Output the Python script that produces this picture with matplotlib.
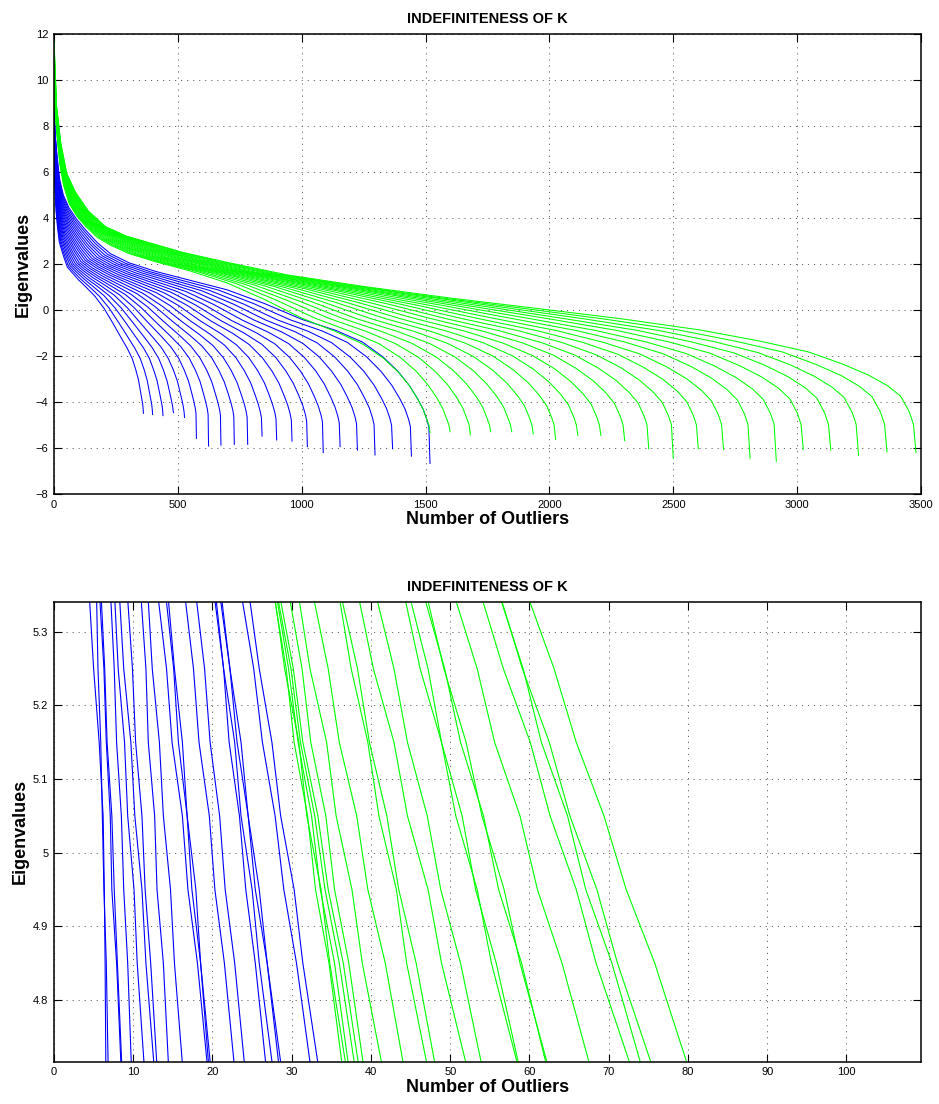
import numpy as np
import matplotlib.pyplot as plt

plt.rcParams['font.family'] = ['Liberation Sans', 'DejaVu Sans']

# Sample points along each run, as a fraction of that run's length.
frac = [0, 0.003, 0.008, 0.015, 0.025, 0.04, 0.06, 0.085, 0.115, 0.15, 0.2,
        0.27, 0.36, 0.46, 0.56, 0.66, 0.75, 0.82, 0.875, 0.915, 0.945,
        0.967, 0.982, 0.992, 0.997, 1.0]

blue_len = [361, 398, 440, 483, 527, 575, 624, 674, 728, 782, 840,
            899, 961, 1023, 1087, 1155, 1225, 1296, 1367, 1443, 1518]
blue_end = [-4.49, -4.54, -4.59, -4.46, -4.67, -5.58, -5.91, -5.87, -5.84, -5.84, -5.48,
            -5.65, -5.70, -5.94, -6.20, -5.94, -6.09, -6.30, -6.03, -6.35, -6.67]
blue_vals = [
    [7.0, 6.45, 5.7, 4.92, 4.2, 3.56, 2.94, 2.62, 2.24, 1.86, 1.64, 1.33, 0.99, 0.59, 0.07, -0.58, -1.2, -1.67, -2.11, -2.6, -3.04, -3.53, -3.87, -4.1, -4.3],
    [7.1, 6.51, 5.75, 4.96, 4.24, 3.6, 2.99, 2.66, 2.27, 1.89, 1.66, 1.35, 1.01, 0.6, 0.08, -0.57, -1.18, -1.66, -2.11, -2.6, -3.05, -3.55, -3.89, -4.13, -4.34],
    [7.2, 6.58, 5.8, 5.0, 4.28, 3.65, 3.04, 2.7, 2.31, 1.92, 1.68, 1.37, 1.02, 0.62, 0.09, -0.56, -1.17, -1.64, -2.1, -2.61, -3.06, -3.56, -3.92, -4.17, -4.38],
    [7.3, 6.64, 5.85, 5.04, 4.32, 3.69, 3.09, 2.75, 2.34, 1.95, 1.7, 1.38, 1.04, 0.63, 0.1, -0.55, -1.15, -1.63, -2.1, -2.61, -3.08, -3.58, -3.94, -4.2, -4.42],
    [7.4, 6.7, 5.9, 5.07, 4.36, 3.74, 3.14, 2.79, 2.38, 1.98, 1.72, 1.4, 1.05, 0.65, 0.11, -0.55, -1.14, -1.61, -2.1, -2.61, -3.09, -3.6, -3.96, -4.24, -4.46],
    [7.5, 6.77, 5.96, 5.11, 4.4, 3.78, 3.19, 2.83, 2.41, 2.01, 1.74, 1.42, 1.07, 0.66, 0.12, -0.54, -1.12, -1.6, -2.09, -2.62, -3.1, -3.61, -3.98, -4.27, -4.5],
    [7.6, 6.83, 6.01, 5.15, 4.44, 3.82, 3.24, 2.87, 2.45, 2.04, 1.76, 1.44, 1.08, 0.68, 0.13, -0.53, -1.11, -1.59, -2.09, -2.62, -3.11, -3.63, -4.01, -4.3, -4.54],
    [7.7, 6.89, 6.06, 5.19, 4.48, 3.87, 3.29, 2.91, 2.48, 2.07, 1.78, 1.45, 1.1, 0.69, 0.14, -0.52, -1.09, -1.57, -2.09, -2.62, -3.12, -3.65, -4.03, -4.34, -4.58],
    [7.8, 6.96, 6.11, 5.23, 4.52, 3.91, 3.34, 2.96, 2.52, 2.1, 1.8, 1.47, 1.11, 0.71, 0.15, -0.51, -1.08, -1.56, -2.08, -2.63, -3.14, -3.66, -4.05, -4.37, -4.62],
    [7.9, 7.02, 6.16, 5.27, 4.56, 3.96, 3.39, 3.0, 2.55, 2.13, 1.82, 1.49, 1.13, 0.72, 0.16, -0.5, -1.06, -1.54, -2.08, -2.63, -3.15, -3.68, -4.07, -4.41, -4.66],
    [8.0, 7.09, 6.21, 5.31, 4.6, 4.0, 3.45, 3.04, 2.59, 2.16, 1.85, 1.51, 1.15, 0.74, 0.18, -0.5, -1.05, -1.53, -2.08, -2.64, -3.16, -3.7, -4.1, -4.44, -4.7],
    [8.1, 7.15, 6.26, 5.34, 4.63, 4.04, 3.5, 3.08, 2.62, 2.18, 1.87, 1.52, 1.16, 0.75, 0.19, -0.49, -1.03, -1.52, -2.07, -2.64, -3.17, -3.71, -4.12, -4.47, -4.74],
    [8.2, 7.21, 6.31, 5.38, 4.67, 4.09, 3.55, 3.12, 2.65, 2.21, 1.89, 1.54, 1.18, 0.76, 0.2, -0.48, -1.01, -1.5, -2.07, -2.64, -3.18, -3.73, -4.14, -4.51, -4.78],
    [8.3, 7.28, 6.36, 5.42, 4.71, 4.13, 3.6, 3.17, 2.69, 2.24, 1.91, 1.56, 1.19, 0.78, 0.21, -0.47, -1.0, -1.49, -2.06, -2.65, -3.2, -3.74, -4.16, -4.54, -4.82],
    [8.4, 7.34, 6.41, 5.46, 4.75, 4.18, 3.65, 3.21, 2.72, 2.27, 1.93, 1.58, 1.21, 0.79, 0.22, -0.46, -0.98, -1.47, -2.06, -2.65, -3.21, -3.76, -4.19, -4.58, -4.86],
    [8.5, 7.4, 6.47, 5.5, 4.79, 4.22, 3.7, 3.25, 2.76, 2.3, 1.95, 1.59, 1.22, 0.81, 0.23, -0.45, -0.97, -1.46, -2.06, -2.65, -3.22, -3.78, -4.21, -4.61, -4.9],
    [8.6, 7.47, 6.52, 5.54, 4.83, 4.26, 3.75, 3.29, 2.79, 2.33, 1.97, 1.61, 1.24, 0.82, 0.24, -0.44, -0.95, -1.45, -2.05, -2.66, -3.23, -3.79, -4.23, -4.64, -4.94],
    [8.7, 7.53, 6.57, 5.57, 4.87, 4.31, 3.8, 3.33, 2.83, 2.36, 1.99, 1.63, 1.25, 0.84, 0.25, -0.44, -0.94, -1.43, -2.05, -2.66, -3.24, -3.81, -4.25, -4.68, -4.98],
    [8.8, 7.59, 6.62, 5.61, 4.91, 4.35, 3.85, 3.38, 2.86, 2.39, 2.01, 1.65, 1.27, 0.85, 0.26, -0.43, -0.92, -1.42, -2.05, -2.66, -3.26, -3.83, -4.28, -4.71, -5.02],
    [8.9, 7.66, 6.67, 5.65, 4.95, 4.4, 3.9, 3.42, 2.9, 2.42, 2.03, 1.66, 1.28, 0.87, 0.27, -0.42, -0.91, -1.4, -2.04, -2.67, -3.27, -3.84, -4.3, -4.75, -5.06],
    [9.0, 7.72, 6.72, 5.69, 4.99, 4.44, 3.95, 3.46, 2.93, 2.45, 2.05, 1.68, 1.3, 0.88, 0.28, -0.41, -0.89, -1.39, -2.04, -2.67, -3.28, -3.86, -4.32, -4.78, -5.1],
]

green_len = [1518, 1599, 1681, 1763, 1848, 1935, 2025, 2115, 2208, 2304, 2401,
             2500, 2601, 2703, 2810, 2916, 3025, 3136, 3248, 3363, 3480]
green_end = [-5.33, -5.29, -5.43, -5.29, -5.29, -5.39, -5.62, -5.45, -5.45, -5.68, -6.03,
             -6.45, -6.03, -6.06, -6.45, -6.58, -6.06, -6.09, -6.32, -6.17, -6.20]
green_vals = [
    [9.5, 8.71, 7.6, 6.41, 5.45, 4.64, 4.1, 3.62, 3.16, 2.82, 2.45, 2.1, 1.71, 1.18, 0.46, -0.36, -0.94, -1.47, -2.08, -2.69, -3.29, -3.86, -4.33, -4.78, -5.0],
    [9.61, 8.72, 7.58, 6.39, 5.43, 4.62, 4.08, 3.6, 3.15, 2.8, 2.43, 2.07, 1.68, 1.15, 0.44, -0.36, -0.94, -1.46, -2.07, -2.67, -3.27, -3.83, -4.3, -4.76, -5.0],
    [9.73, 8.73, 7.56, 6.36, 5.42, 4.61, 4.05, 3.58, 3.13, 2.79, 2.41, 2.04, 1.64, 1.11, 0.42, -0.36, -0.93, -1.46, -2.05, -2.66, -3.24, -3.8, -4.27, -4.74, -5.0],
    [9.84, 8.73, 7.54, 6.34, 5.4, 4.59, 4.03, 3.56, 3.12, 2.77, 2.39, 2.01, 1.61, 1.08, 0.4, -0.36, -0.93, -1.45, -2.04, -2.64, -3.22, -3.77, -4.24, -4.72, -4.99],
    [9.95, 8.74, 7.53, 6.31, 5.38, 4.57, 4.0, 3.54, 3.1, 2.76, 2.38, 1.99, 1.57, 1.05, 0.38, -0.37, -0.93, -1.45, -2.03, -2.62, -3.2, -3.75, -4.21, -4.71, -4.99],
    [10.06, 8.75, 7.51, 6.29, 5.37, 4.56, 3.98, 3.52, 3.09, 2.74, 2.36, 1.96, 1.54, 1.02, 0.36, -0.37, -0.92, -1.44, -2.02, -2.61, -3.18, -3.72, -4.18, -4.69, -4.99],
    [10.18, 8.76, 7.49, 6.26, 5.35, 4.54, 3.96, 3.49, 3.08, 2.72, 2.34, 1.93, 1.5, 0.98, 0.34, -0.37, -0.92, -1.44, -2.0, -2.59, -3.15, -3.69, -4.15, -4.67, -4.99],
    [10.29, 8.76, 7.47, 6.24, 5.33, 4.52, 3.93, 3.47, 3.06, 2.71, 2.32, 1.9, 1.47, 0.95, 0.32, -0.37, -0.92, -1.43, -1.99, -2.57, -3.13, -3.66, -4.12, -4.65, -4.99],
    [10.4, 8.77, 7.45, 6.21, 5.32, 4.5, 3.91, 3.45, 3.05, 2.69, 2.3, 1.87, 1.43, 0.92, 0.3, -0.37, -0.91, -1.43, -1.98, -2.55, -3.11, -3.63, -4.09, -4.63, -4.98],
    [10.51, 8.78, 7.43, 6.19, 5.3, 4.49, 3.88, 3.43, 3.03, 2.68, 2.28, 1.84, 1.4, 0.88, 0.28, -0.37, -0.91, -1.42, -1.96, -2.54, -3.08, -3.6, -4.06, -4.61, -4.98],
    [10.63, 8.79, 7.42, 6.17, 5.29, 4.47, 3.86, 3.41, 3.02, 2.66, 2.27, 1.82, 1.37, 0.85, 0.27, -0.38, -0.91, -1.42, -1.95, -2.52, -3.06, -3.58, -4.04, -4.6, -4.98],
    [10.74, 8.79, 7.4, 6.14, 5.27, 4.45, 3.84, 3.39, 3.01, 2.64, 2.25, 1.79, 1.33, 0.82, 0.25, -0.38, -0.9, -1.41, -1.94, -2.5, -3.04, -3.55, -4.01, -4.58, -4.98],
    [10.85, 8.8, 7.38, 6.12, 5.25, 4.44, 3.81, 3.37, 2.99, 2.63, 2.23, 1.76, 1.3, 0.78, 0.23, -0.38, -0.9, -1.4, -1.92, -2.49, -3.01, -3.52, -3.98, -4.56, -4.98],
    [10.96, 8.81, 7.36, 6.09, 5.24, 4.42, 3.79, 3.35, 2.98, 2.61, 2.21, 1.73, 1.26, 0.75, 0.21, -0.38, -0.89, -1.4, -1.91, -2.47, -2.99, -3.49, -3.95, -4.54, -4.97],
    [11.08, 8.82, 7.34, 6.07, 5.22, 4.4, 3.76, 3.33, 2.96, 2.6, 2.19, 1.7, 1.23, 0.72, 0.19, -0.38, -0.89, -1.39, -1.9, -2.45, -2.97, -3.46, -3.92, -4.52, -4.97],
    [11.19, 8.82, 7.32, 6.04, 5.2, 4.39, 3.74, 3.31, 2.95, 2.58, 2.17, 1.67, 1.19, 0.69, 0.17, -0.38, -0.89, -1.39, -1.89, -2.44, -2.95, -3.43, -3.89, -4.5, -4.97],
    [11.3, 8.83, 7.3, 6.02, 5.19, 4.37, 3.72, 3.28, 2.94, 2.56, 2.15, 1.64, 1.16, 0.65, 0.15, -0.38, -0.88, -1.38, -1.87, -2.42, -2.92, -3.4, -3.86, -4.48, -4.97],
    [11.41, 8.84, 7.29, 5.99, 5.17, 4.35, 3.69, 3.26, 2.92, 2.55, 2.14, 1.62, 1.12, 0.62, 0.13, -0.39, -0.88, -1.38, -1.86, -2.4, -2.9, -3.38, -3.83, -4.47, -4.97],
    [11.53, 8.85, 7.27, 5.97, 5.15, 4.33, 3.67, 3.24, 2.91, 2.53, 2.12, 1.59, 1.09, 0.59, 0.11, -0.39, -0.88, -1.37, -1.85, -2.38, -2.88, -3.35, -3.8, -4.45, -4.96],
    [11.64, 8.85, 7.25, 5.94, 5.14, 4.32, 3.64, 3.22, 2.89, 2.52, 2.1, 1.56, 1.05, 0.55, 0.09, -0.39, -0.87, -1.37, -1.83, -2.37, -2.85, -3.32, -3.77, -4.43, -4.96],
    [11.75, 8.86, 7.23, 5.92, 5.12, 4.3, 3.62, 3.2, 2.88, 2.5, 2.08, 1.53, 1.02, 0.52, 0.07, -0.39, -0.87, -1.36, -1.82, -2.35, -2.83, -3.29, -3.74, -4.41, -4.96],
]

# Zoomed view: where each curve sits (outlier count) at these eigenvalue levels.
zoom_levels = [5.36, 5.25, 5.15, 5.05, 4.95, 4.85, 4.70]
zoom_blue = [
    [4.4, 5.0, 5.7, 6.2, 6.35, 6.45, 6.55],
    [5.35, 5.55, 5.9, 6.1, 6.3, 6.6, 6.85],
    [5.7, 6.3, 6.6, 7.1, 7.3, 7.9, 8.5],
    [5.9, 6.4, 6.7, 7.3, 7.6, 8.0, 8.6],
    [7.1, 7.6, 7.9, 8.5, 8.8, 9.3, 9.8],
    [7.6, 8.1, 8.9, 9.3, 10.1, 10.5, 11.45],
    [8.2, 8.8, 9.7, 10.2, 11.1, 11.6, 12.7],
    [9.2, 9.9, 10.3, 11.1, 11.5, 12.2, 13.05],
    [10.9, 11.6, 11.9, 12.7, 13.0, 13.8, 14.5],
    [11.8, 12.4, 13.3, 13.8, 14.7, 15.2, 16.3],
    [13.0, 14.2, 14.9, 16.2, 16.9, 18.1, 19.45],
    [14.0, 15.1, 15.7, 16.8, 17.4, 18.5, 19.6],
    [14.3, 15.2, 16.2, 16.8, 17.9, 18.5, 19.85],
    [16.4, 17.6, 18.3, 19.6, 20.3, 21.5, 22.85],
    [17.8, 19.0, 19.7, 20.9, 21.6, 22.8, 24.15],
    [20.1, 21.4, 22.1, 23.4, 24.2, 25.4, 26.85],
    [20.3, 21.4, 22.8, 23.6, 25.0, 25.9, 27.7],
    [20.8, 22.2, 23.1, 24.5, 25.4, 26.9, 28.5],
    [21.0, 22.2, 23.6, 24.5, 25.9, 26.9, 28.8],
    [23.5, 25.2, 26.3, 27.9, 29.0, 30.6, 32.5],
    [24.5, 25.9, 27.5, 28.6, 30.3, 31.4, 33.5],
]
zoom_green = [
    [27.6, 29.3, 30.3, 32.0, 33.0, 34.7, 36.5],
    [27.7, 29.1, 30.9, 31.9, 33.7, 34.8, 37.0],
    [27.9, 29.6, 30.8, 32.5, 33.6, 35.4, 37.3],
    [28.0, 29.9, 31.1, 32.9, 34.2, 36.0, 38.1],
    [28.3, 30.2, 31.4, 33.3, 34.6, 36.5, 38.6],
    [29.5, 31.3, 32.4, 34.3, 35.4, 37.2, 39.2],
    [30.7, 32.3, 34.4, 35.6, 37.6, 38.9, 41.6],
    [32.5, 34.6, 36.0, 38.2, 39.6, 41.8, 44.3],
    [35.8, 37.5, 39.6, 41.0, 43.2, 44.5, 47.3],
    [36.0, 38.3, 39.8, 42.0, 43.5, 45.7, 48.3],
    [38.2, 40.3, 42.9, 44.6, 47.2, 48.9, 52.3],
    [40.4, 42.9, 44.6, 47.1, 48.8, 51.3, 54.2],
    [44.0, 46.2, 48.9, 50.7, 53.4, 55.2, 58.8],
    [44.6, 47.2, 48.9, 51.5, 53.2, 55.8, 58.9],
    [46.4, 49.3, 51.3, 54.2, 56.1, 59.0, 62.4],
    [46.8, 49.2, 52.0, 54.0, 56.8, 58.8, 62.6],
    [50.2, 53.4, 55.6, 58.8, 61.0, 64.1, 67.9],
    [53.6, 56.7, 60.1, 62.6, 65.9, 68.4, 73.1],
    [55.9, 59.2, 61.5, 64.8, 67.1, 70.4, 74.4],
    [56.0, 59.1, 62.5, 65.1, 68.5, 71.1, 75.8],
    [59.4, 63.1, 65.9, 69.4, 72.2, 75.8, 80.3],
]

BLUE = '#0000ff'
GREEN = '#00ff00'


def style(ax):
    ax.grid(True, linestyle=(0, (1.2, 5)), color='0.4', lw=0.7)
    ax.set_axisbelow(True)
    ax.tick_params(direction='in', top=True, right=True, length=6,
                   width=0.8, labelsize=8, pad=4)
    for s in ax.spines.values():
        s.set_linewidth(1.1)
    ax.set_title('INDEFINITENESS OF K', fontweight='bold', fontsize=10.5, pad=8)
    ax.set_xlabel('Number of Outliers', fontweight='bold', fontsize=13, labelpad=1)
    ax.set_ylabel('Eigenvalues', fontweight='bold', fontsize=13, labelpad=3)


fig = plt.figure(figsize=(9.39, 11.04), dpi=100)
ax1 = fig.add_axes([0.0575, 0.5525, 0.9233, 0.4167])
ax2 = fig.add_axes([0.0575, 0.0383, 0.9233, 0.4167])

# Full spectra, one line per run.
for n, row, end in zip(blue_len, blue_vals, blue_end):
    ax1.plot(np.array(frac) * n, row + [end], color=BLUE, lw=0.75)
for n, row, end in zip(green_len, green_vals, green_end):
    ax1.plot(np.array(frac) * n, row + [end], color=GREEN, lw=0.75)

ax1.set_xlim(0, 3500)
ax1.set_ylim(-8, 12)
ax1.set_xticks(np.arange(0, 3501, 500))
ax1.set_yticks(np.arange(-8, 13, 2))
style(ax1)

# Close-up of the largest eigenvalues.
for xs in zoom_blue:
    ax2.plot(xs, zoom_levels, color=BLUE, lw=0.8)
for xs in zoom_green:
    ax2.plot(xs, zoom_levels, color=GREEN, lw=0.8)

ax2.set_xlim(0, 109.4)
ax2.set_ylim(4.716, 5.341)
ax2.set_xticks(np.arange(0, 101, 10))
ax2.set_yticks([4.8, 4.9, 5.0, 5.1, 5.2, 5.3])
ax2.set_yticklabels(['4.8', '4.9', '5', '5.1', '5.2', '5.3'])
style(ax2)

fig.savefig('out.png', dpi=100)
